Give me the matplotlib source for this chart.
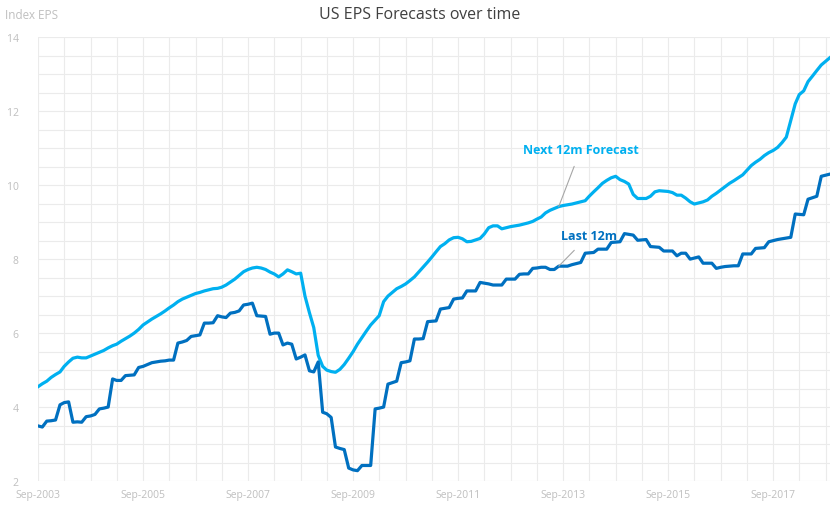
import pandas as pd
import numpy as np
import matplotlib
matplotlib.use('Agg')
import matplotlib.pyplot as plt
import matplotlib.dates as mdates

#--------------------------------------------------------------------------------
# Monthly data, Sep-2003 .. Oct-2018
dates = pd.date_range('2003-09-01', periods=182, freq='MS')

next12m = [
    4.55, 4.63, 4.70, 4.80, 4.88, 4.95, 5.10, 5.22, 5.32, 5.35, 5.33, 5.33,
    5.38, 5.43, 5.48, 5.53, 5.60, 5.66, 5.70, 5.78, 5.85, 5.92, 6.00, 6.10,
    6.22, 6.30, 6.38, 6.45, 6.52, 6.60, 6.68, 6.76, 6.85, 6.92, 6.97, 7.02,
    7.07, 7.10, 7.14, 7.17, 7.20, 7.21, 7.24, 7.30, 7.38, 7.46, 7.56, 7.66,
    7.72, 7.76, 7.78, 7.76, 7.72, 7.65, 7.60, 7.52, 7.60, 7.71, 7.66, 7.60,
    7.62, 7.00, 6.55, 6.15, 5.40, 5.10, 5.00, 4.96, 4.94, 5.02, 5.15, 5.32,
    5.50, 5.70, 5.88, 6.05, 6.22, 6.35, 6.47, 6.85, 7.00, 7.10, 7.20, 7.26,
    7.33, 7.42, 7.52, 7.65, 7.78, 7.92, 8.05, 8.20, 8.34, 8.42, 8.52, 8.58,
    8.59, 8.55, 8.47, 8.48, 8.52, 8.56, 8.68, 8.85, 8.90, 8.90, 8.82, 8.85,
    8.88, 8.90, 8.92, 8.95, 8.98, 9.02, 9.08, 9.14, 9.25, 9.32, 9.37, 9.42,
    9.45, 9.47, 9.49, 9.52, 9.55, 9.58, 9.70, 9.82, 9.93, 10.05, 10.13, 10.20,
    10.24, 10.15, 10.10, 10.03, 9.75, 9.64, 9.64, 9.64, 9.70, 9.82, 9.85, 9.84,
    9.83, 9.80, 9.73, 9.73, 9.65, 9.55, 9.49, 9.52, 9.55, 9.60, 9.70, 9.78,
    9.87, 9.96, 10.05, 10.12, 10.20, 10.28, 10.40, 10.53, 10.62, 10.70, 10.80, 10.88,
    10.94, 11.02, 11.15, 11.30, 11.75, 12.20, 12.45, 12.55, 12.80, 12.95, 13.10, 13.25,
    13.35, 13.45,
]

last12m = [
    3.49, 3.46, 3.62, 3.63, 3.65, 4.06, 4.12, 4.14, 3.59, 3.60, 3.59, 3.74,
    3.76, 3.80, 3.95, 3.97, 4.00, 4.76, 4.72, 4.72, 4.85, 4.86, 4.87, 5.07,
    5.10, 5.15, 5.20, 5.22, 5.24, 5.25, 5.27, 5.27, 5.73, 5.76, 5.80, 5.91,
    5.93, 5.95, 6.27, 6.27, 6.28, 6.47, 6.44, 6.42, 6.54, 6.56, 6.60, 6.76,
    6.78, 6.81, 6.47, 6.46, 6.45, 5.97, 6.00, 6.00, 5.68, 5.73, 5.70, 5.30,
    5.35, 5.41, 4.98, 4.95, 5.22, 3.86, 3.82, 3.72, 2.92, 2.88, 2.85, 2.35,
    2.30, 2.28, 2.42, 2.42, 2.42, 3.95, 3.97, 4.00, 4.62, 4.66, 4.70, 5.20,
    5.22, 5.25, 5.84, 5.84, 5.85, 6.31, 6.32, 6.33, 6.65, 6.67, 6.69, 6.92,
    6.94, 6.95, 7.14, 7.14, 7.14, 7.37, 7.35, 7.33, 7.30, 7.30, 7.30, 7.46,
    7.46, 7.46, 7.59, 7.60, 7.60, 7.75, 7.76, 7.78, 7.78, 7.72, 7.72, 7.81,
    7.81, 7.81, 7.85, 7.88, 7.91, 8.16, 8.17, 8.18, 8.27, 8.27, 8.27, 8.45,
    8.46, 8.47, 8.69, 8.67, 8.65, 8.51, 8.52, 8.53, 8.34, 8.33, 8.32, 8.22,
    8.22, 8.22, 8.09, 8.16, 8.16, 8.00, 8.03, 8.06, 7.89, 7.89, 7.89, 7.75,
    7.78, 7.80, 7.81, 7.82, 7.82, 8.14, 8.14, 8.14, 8.29, 8.30, 8.31, 8.47,
    8.50, 8.53, 8.55, 8.57, 8.59, 9.22, 9.21, 9.20, 9.62, 9.66, 9.70, 10.24,
    10.27, 10.30,
]

#--------------------------------------------------------------------------------
light = '#00B0F0'
dark = '#0070C0'
grey = '#BFBFBF'
plt.rcParams['font.family'] = 'Open Sans'

fig = plt.figure(figsize=(8.39, 5.06), dpi=100)
ax = fig.add_axes([0.0453, 0.0474, 0.944, 0.877])

ax.plot(dates, next12m, color=light, lw=2.3, solid_joinstyle='round')
ax.plot(dates, last12m, color=dark, lw=2.3, solid_joinstyle='round')

ax.set_xlim(dates[0], dates[-1])
ax.set_ylim(2, 14)
ax.set_yticks(range(2, 15, 2))
ax.set_yticks(np.arange(2, 14.01, 0.5), minor=True)
major = [d for d in dates if d.month == 9 and d.year % 2 == 1]
ax.set_xticks(major)
ax.set_xticklabels([d.strftime('Sep-%Y') for d in major])
ax.set_xticks([d for d in dates if d.month in (3, 9)], minor=True)
ax.grid(which='both', color='#EBEBEB', lw=0.8)
ax.set_axisbelow(True)
for s in ax.spines.values():
    s.set_visible(False)
ax.tick_params(which='both', length=0, colors=grey, labelsize=7.5)
ax.tick_params(axis='x', pad=6)
ax.tick_params(axis='y', pad=14)

fig.text(0.5, 0.97, 'US EPS Forecasts over time', ha='center', va='center',
         fontsize=11.5, color='#404040')
fig.text(0.006, 0.97, 'Index EPS', ha='left', va='center', fontsize=8.5, color=grey)

ax.annotate('Next 12m Forecast', xy=(dates[119], next12m[119]),
            xytext=(dates[124], 10.97), ha='center', va='center',
            fontsize=9, fontweight='bold', color=light,
            arrowprops=dict(arrowstyle='-', color='#A6A6A6', lw=0.8, shrinkB=0, shrinkA=6))
ax.annotate('Last 12m', xy=(dates[119], last12m[119]),
            xytext=(dates[126], 8.65), ha='center', va='center',
            fontsize=9, fontweight='bold', color=dark,
            arrowprops=dict(arrowstyle='-', color='#A6A6A6', lw=0.8, shrinkB=0, shrinkA=6))

fig.savefig('out.png', dpi=100)
